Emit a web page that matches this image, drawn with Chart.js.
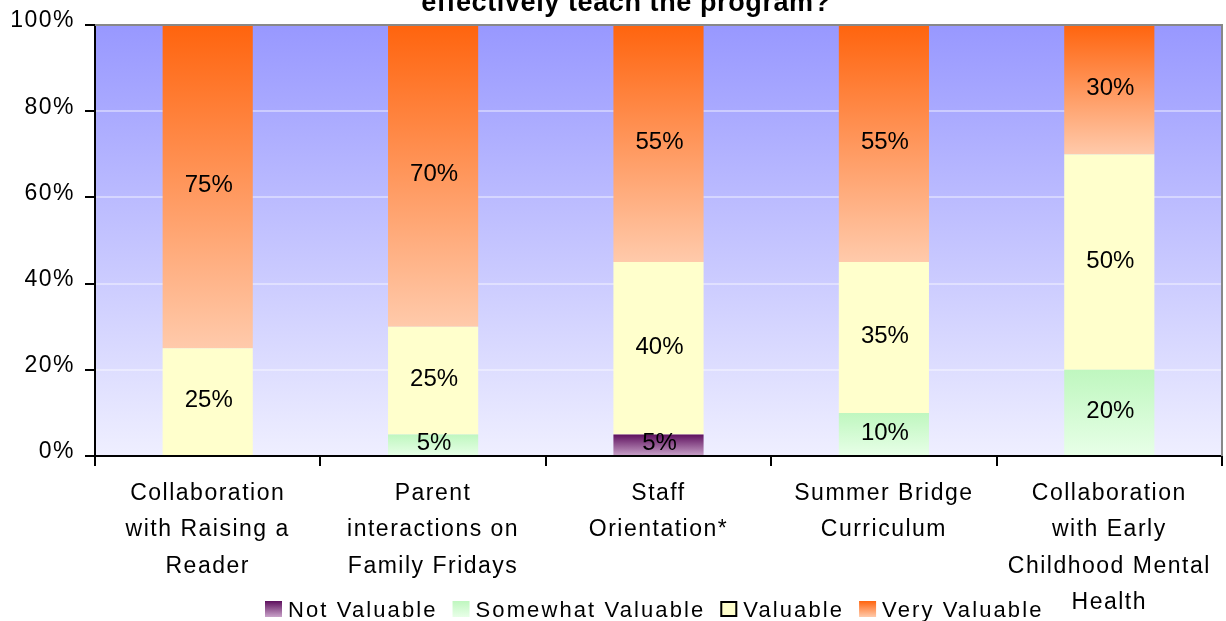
<!DOCTYPE html>
<html>
<head>
<meta charset="utf-8">
<script src="https://cdn.jsdelivr.net/npm/chart.js@4"></script>
<style>
  html, body { margin: 0; padding: 0; background: #fff; }
</style>
</head>
<body>
<canvas id="chart" width="1226" height="621"></canvas>
<script>
const categories = [
  ["Collaboration", "with Raising a", "Reader"],
  ["Parent", "interactions on", "Family Fridays"],
  ["Staff", "Orientation*"],
  ["Summer Bridge", "Curriculum"],
  ["Collaboration", "with Early", "Childhood Mental", "Health"]
];
const seriesNames = ["Not Valuable", "Somewhat Valuable", "Valuable", "Very Valuable"];
const notValuable = [0, 0, 5, 0, 0];
const somewhatValuable = [0, 5, 0, 10, 20];
const valuable = [25, 25, 40, 35, 50];
const veryValuable = [75, 70, 55, 55, 30];
const yMax = 100;
const yStep = 20;
const titleText = "effectively teach the program?";

// top / bottom colour of each segment's gradient
const segColors = [
  ["#5e105e", "#c9a3c9"],
  ["#bff7bf", "#e8ffe8"],
  ["#ffffcc", "#ffffcc"],
  ["#ff640e", "#ffcaab"]
];
const FONT = '"Liberation Sans", Arial, sans-serif';

function segFill(c) {
  const chart = c.chart;
  const col = segColors[c.datasetIndex];
  if (!chart.chartArea || c.type !== "data" || !c.raw) return col[0];
  const y = chart.scales.y;
  let below = 0;
  for (let d = 0; d < c.datasetIndex; d++) below += chart.data.datasets[d].data[c.dataIndex];
  const top = y.getPixelForValue(below + c.raw);
  const bottom = y.getPixelForValue(below);
  const g = chart.ctx.createLinearGradient(0, top, 0, bottom);
  g.addColorStop(0, col[0]);
  g.addColorStop(1, col[1]);
  return g;
}

const plotBackground = {
  id: "plotBackground",
  beforeDraw(chart) {
    const { ctx, chartArea: a } = chart;
    ctx.letterSpacing = "1.5px";
    const g = ctx.createLinearGradient(0, a.top, 0, a.bottom);
    g.addColorStop(0, "#9898ff");
    g.addColorStop(1, "#efefff");
    ctx.save();
    ctx.fillStyle = g;
    ctx.fillRect(a.left, a.top, a.right - a.left, a.bottom - a.top);
    ctx.restore();
  }
};

const segmentLabels = {
  id: "segmentLabels",
  afterDatasetsDraw(chart) {
    const { ctx, chartArea: a } = chart;
    ctx.save();
    ctx.font = "24px " + FONT;
    ctx.letterSpacing = "0px";
    ctx.fillStyle = "#000";
    ctx.textAlign = "center";
    ctx.textBaseline = "middle";
    chart.data.datasets.forEach((ds, di) => {
      chart.getDatasetMeta(di).data.forEach((el, i) => {
        const v = ds.data[i];
        if (!v) return;
        ctx.fillText(v + "%", el.x + 1, (el.y + el.base) / 2 - 1);
      });
    });
    // grey frame on top and right
    ctx.strokeStyle = "#888888";
    ctx.lineWidth = 2;
    ctx.beginPath();
    ctx.moveTo(a.left, a.top);
    ctx.lineTo(a.right, a.top);
    ctx.lineTo(a.right, a.bottom);
    ctx.stroke();
    ctx.restore();
  }
};

const titleAndLegend = {
  id: "titleAndLegend",
  afterDraw(chart) {
    const ctx = chart.ctx;
    ctx.save();
    ctx.fillStyle = "#000";
    ctx.font = "bold 27px " + FONT;
    ctx.letterSpacing = "0.6px";
    ctx.textAlign = "center";
    ctx.textBaseline = "alphabetic";
    ctx.fillText(titleText, 626, 10.5);

    ctx.font = "22px " + FONT;
    ctx.letterSpacing = "2.1px";
    ctx.textAlign = "left";
    let x = 265;
    const top = 601, size = 16;
    seriesNames.forEach((name, i) => {
      const col = segColors[i];
      const g = ctx.createLinearGradient(0, top, 0, top + size);
      g.addColorStop(0, col[0]);
      g.addColorStop(1, col[1]);
      ctx.fillStyle = g;
      ctx.fillRect(x, top, 17, size);
      if (i === 2) {
        ctx.strokeStyle = "#000";
        ctx.lineWidth = 2;
        ctx.strokeRect(x + 1, top + 1, 15, size - 2);
      }
      ctx.fillStyle = "#000";
      ctx.fillText(name, x + 23, 617);
      x += 23 + ctx.measureText(name).width + 15;
    });
    ctx.restore();
  }
};

const makeSet = (i, data) => ({
  label: seriesNames[i],
  data: data,
  backgroundColor: segFill,
  borderWidth: 0,
  barPercentage: 0.4,
  categoryPercentage: 1.0
});

new Chart(document.getElementById("chart"), {
  type: "bar",
  data: {
    labels: categories,
    datasets: [
      makeSet(0, notValuable),
      makeSet(1, somewhatValuable),
      makeSet(2, valuable),
      makeSet(3, veryValuable)
    ]
  },
  options: {
    responsive: false,
    animation: false,
    devicePixelRatio: 1,
    layout: { padding: { top: 25, right: 4, left: 0, bottom: 0 } },
    plugins: {
      legend: { display: false },
      title: { display: false },
      tooltip: { enabled: false }
    },
    scales: {
      x: {
        stacked: true,
        z: 1,
        afterFit: s => { s.height = 165; },
        border: { color: "#000", width: 2 },
        grid: {
          offset: true,
          drawOnChartArea: false,
          tickColor: "#000",
          tickLength: 10,
          lineWidth: 2
        },
        ticks: {
          color: "#000",
          padding: 9,
          maxRotation: 0,
          autoSkip: false,
          font: { family: FONT, size: 23, lineHeight: 1.587 }
        }
      },
      y: {
        stacked: true,
        min: 0,
        max: yMax,
        afterFit: s => { s.width = 95; },
        border: { color: "#000", width: 2 },
        grid: {
          color: "rgba(255,255,255,0.4)",
          tickColor: "#000",
          tickLength: 10,
          lineWidth: 2
        },
        ticks: {
          stepSize: yStep,
          color: "#000",
          padding: 10,
          labelOffset: -4,
          font: { family: FONT, size: 23 },
          callback: v => v + "%"
        }
      }
    }
  },
  plugins: [plotBackground, segmentLabels, titleAndLegend]
});
</script>
</body>
</html>
